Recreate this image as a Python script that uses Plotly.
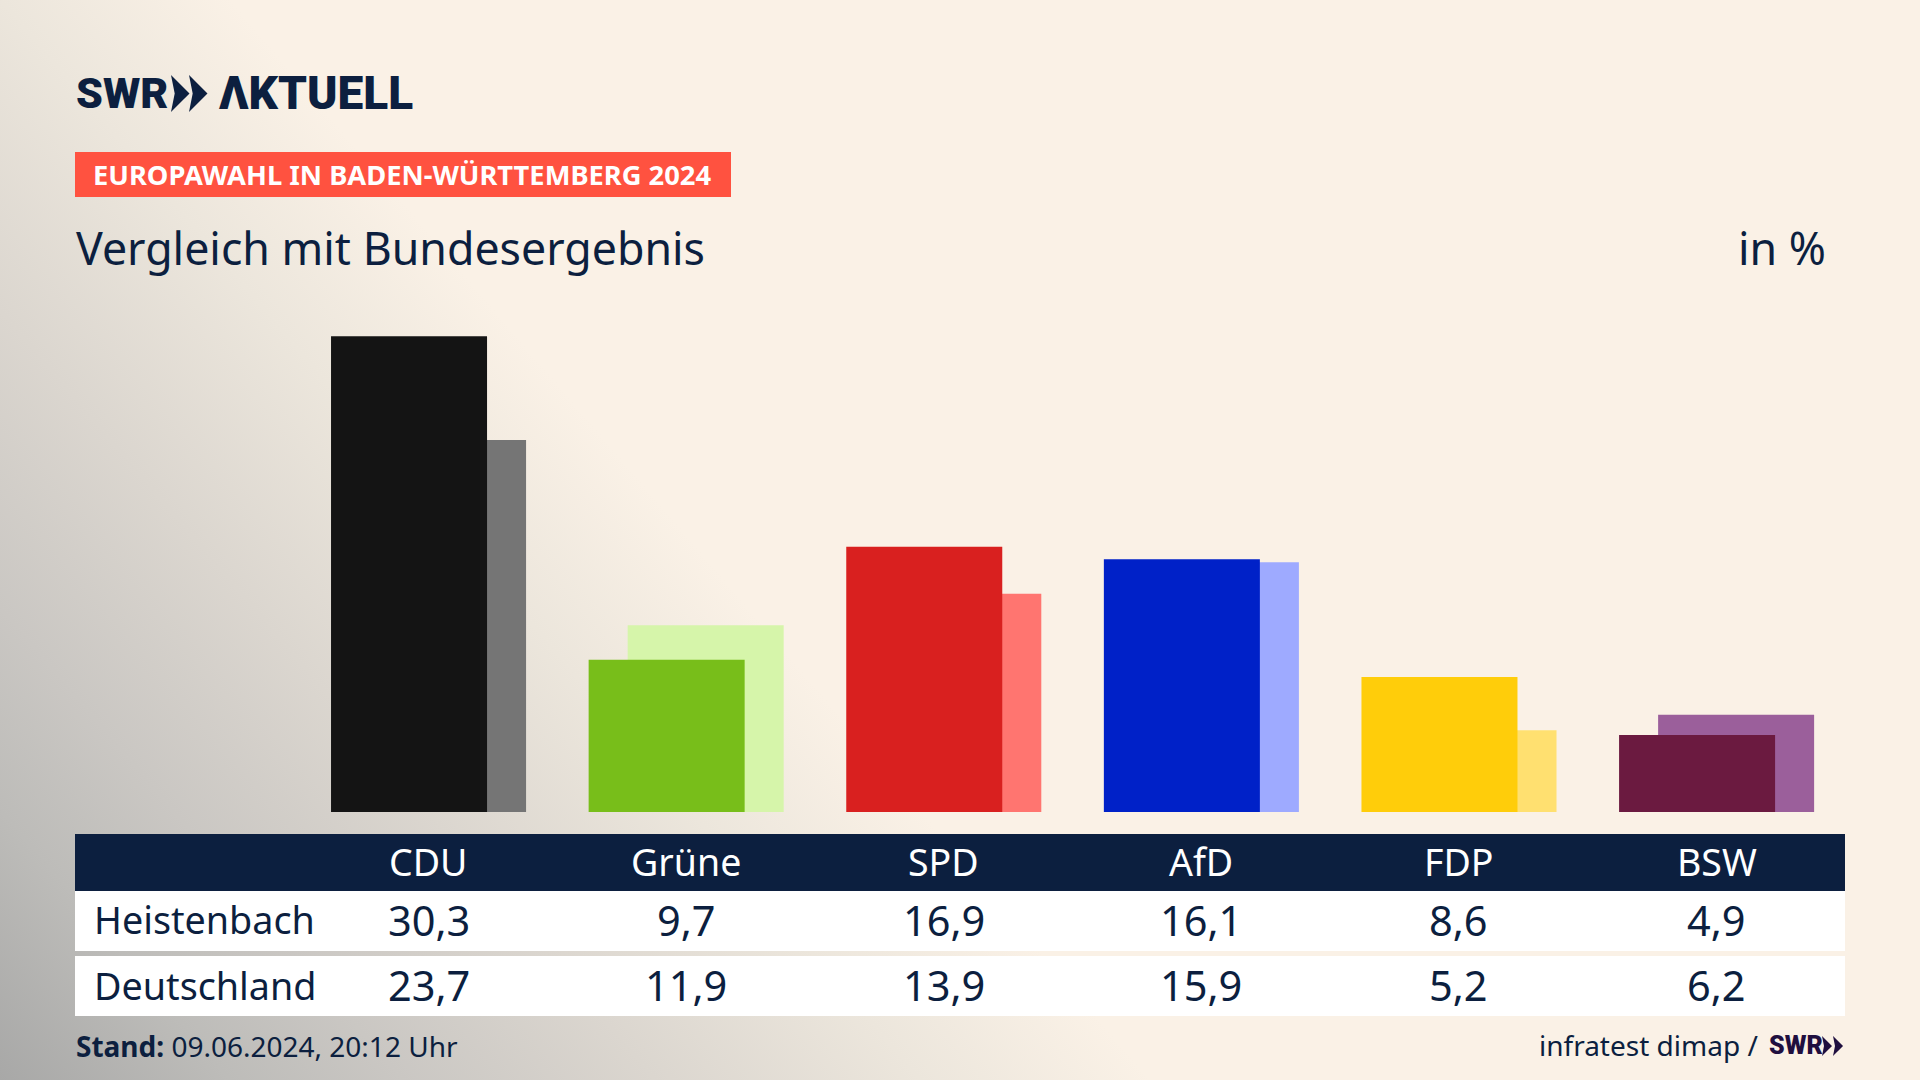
import base64
import plotly.graph_objects as go

# data
parties = ["CDU", "Grüne", "SPD", "AfD", "FDP", "BSW"]
heistenbach = [30.3, 9.7, 16.9, 16.1, 8.6, 4.9]
deutschland = [23.7, 11.9, 13.9, 15.9, 5.2, 6.2]
colors_front = ["#141414", "#78be1a", "#d9201f", "#0021c8", "#ffcd0a", "#6b1a40"]
colors_back = ["#757575", "#d6f5aa", "#ff7570", "#9eaaff", "#ffe070", "#9b5f9b"]

W, H = 1920, 1080
NAVY = "#0c1f3f"
FONT = "Noto Sans"

# pixel helpers, everything outside the bars sits on the paper
def px(x):
    return x / W

def py(y):
    return 1 - y / H

def de(v):
    return f"{v:.1f}".replace(".", ",")

# grey fade from the bottom left corner
bg_svg = """<svg xmlns="http://www.w3.org/2000/svg" width="1920" height="1080">
<defs><linearGradient id="g" gradientUnits="userSpaceOnUse" x1="0" y1="1080" x2="667" y2="512">
<stop offset="0" stop-color="#a8a8a7"/>
<stop offset="0.2" stop-color="#bdbcb9"/>
<stop offset="0.35" stop-color="#cac7c3"/>
<stop offset="0.57" stop-color="#dbd6cf"/>
<stop offset="0.8" stop-color="#ece6dc"/>
<stop offset="1" stop-color="#faf1e6"/>
</linearGradient></defs>
<rect width="1920" height="1080" fill="url(#g)"/></svg>"""
bg_uri = "data:image/svg+xml;base64," + base64.b64encode(bg_svg.encode()).decode()

fig = go.Figure()

# Deutschland behind, Heistenbach in front
fig.add_trace(go.Bar(x=parties, y=deutschland, name="Deutschland", marker_color=colors_back,
                     marker_line_width=0, width=0.6056, offset=-0.227, hoverinfo="skip"))
fig.add_trace(go.Bar(x=parties, y=heistenbach, name="Heistenbach", marker_color=colors_front,
                     marker_line_width=0, width=0.6056, offset=-0.3785, hoverinfo="skip"))

def rect(x0, y0, x1, y1, color):
    return dict(type="rect", xref="paper", yref="paper", x0=px(x0), x1=px(x1), y0=py(y0), y1=py(y1),
                fillcolor=color, line_width=0, layer="below")

def chevron(x0, y0, h, color):
    w = h * 0.5
    pts = [(x0, y0), (x0 + w, y0 + h / 2), (x0, y0 + h), (x0 + w * 0.2, y0 + h / 2)]
    path = "M" + " L".join(f"{px(a):.5f},{py(b):.5f}" for a, b in pts) + " Z"
    return dict(type="path", xref="paper", yref="paper", path=path, fillcolor=color, line_width=0)

shapes = [
    rect(75, 152, 731, 197, "#ff5240"),
    rect(75, 834, 1845, 891, NAVY),
    rect(75, 891, 1845, 951, "#ffffff"),
    rect(75, 956, 1845, 1016, "#ffffff"),
    chevron(171, 75, 37, NAVY),
    chevron(189, 75, 37, NAVY),
    chevron(1822, 1036, 20, "#1f0f3f"),
    chevron(1833, 1036, 20, "#1f0f3f"),
]

annotations = []

def label(text, x, y, size, color=NAVY, anchor="left", family=FONT, xref="paper", weight=None):
    annotations.append(dict(text=text, x=px(x) if xref == "paper" else x, y=py(y), xref=xref, yref="paper",
                            xanchor=anchor, yanchor="middle", showarrow=False,
                            font=dict(family=family, size=size, color=color, weight=weight)))

label("SWR", 74, 93, 43, family="Roboto", weight=900)
label("ΛKTUELL", 217, 93, 46, family="Roboto", weight=900)
label("<b>EUROPAWAHL IN BADEN-WÜRTTEMBERG 2024</b>", 91, 175, 27.3, color="#ffffff")
label("Vergleich mit Bundesergebnis", 73.5, 247, 44.7)
label("in %", 1828, 247, 44.7, anchor="right")

for name, a, b in zip(parties, heistenbach, deutschland):
    label(name, name, 861, 37.5, color="#ffffff", anchor="center", xref="x")
    label(de(a), name, 920, 41.5, anchor="center", xref="x")
    label(de(b), name, 985, 41.5, anchor="center", xref="x")

label("Heistenbach", 92, 919, 37.7)
label("Deutschland", 92, 985, 37.7)
label("<b>Stand:</b> 09.06.2024, 20:12 Uhr", 73.5, 1046, 28)
label("infratest dimap /", 1760, 1045, 28, anchor="right")
label("SWR", 1767, 1045, 25, color="#1f0f3f", family="Roboto", weight=900)

fig.update_layout(
    width=W, height=H,
    margin=dict(l=0, r=0, t=0, b=0),
    barmode="overlay",
    showlegend=False,
    paper_bgcolor="rgba(0,0,0,0)",
    plot_bgcolor="rgba(0,0,0,0)",
    shapes=shapes,
    annotations=annotations,
    images=[dict(source=bg_uri, xref="paper", yref="paper", x=0, y=1, sizex=1, sizey=1,
                 xanchor="left", yanchor="top", sizing="stretch", layer="below")],
)
# 257.6 px per party, first party centred at 428.5 px
fig.update_xaxes(visible=False, type="category", categoryorder="array", categoryarray=parties,
                 range=[-1.6635, 5.7896])
# 15.7 px per percent, baseline at 812 px
fig.update_yaxes(visible=False, range=[-17.07, 51.72])

fig.write_html("out.html", config=dict(displayModeBar=False),
               post_script="document.body.style.margin='0';document.body.style.overflow='hidden';")
